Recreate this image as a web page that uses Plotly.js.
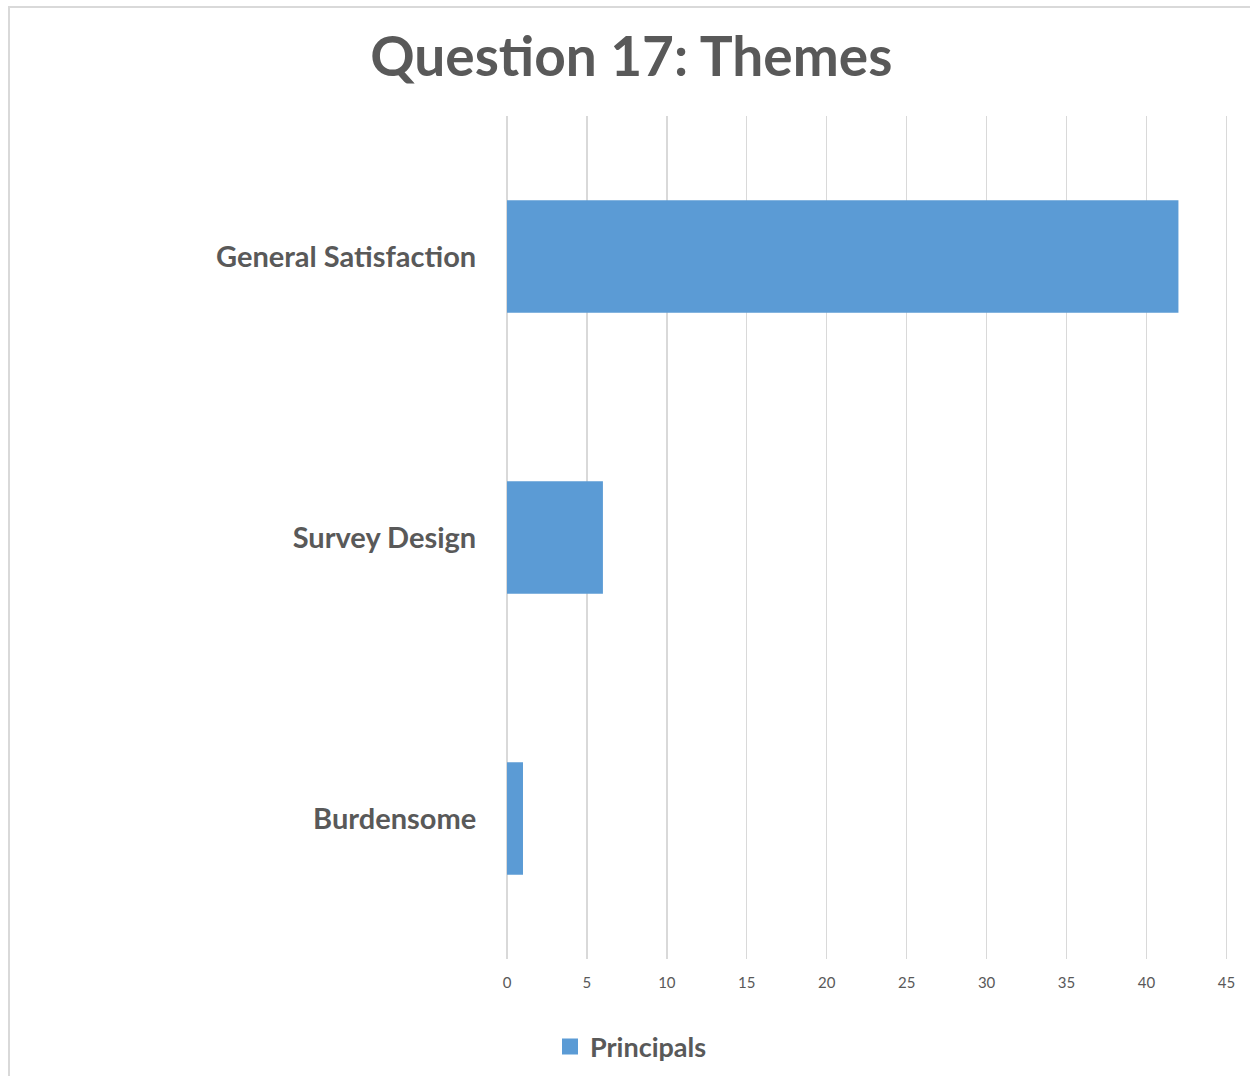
<!DOCTYPE html>
<html>
<head>
<meta charset="utf-8">
<script src="https://cdn.plot.ly/plotly-3.0.1.min.js"></script>
<style>
html,body{margin:0;padding:0;background:#fff;}
#frame{position:absolute;left:8px;top:6px;width:1260px;height:1090px;border:2px solid #d9d9d9;box-sizing:border-box;}
#chart{position:absolute;left:0;top:0;width:1250px;height:1076px;}
</style>
</head>
<body>
<div id="frame"></div>
<div id="chart"></div>
<script>
var categories = ["General Satisfaction", "Survey Design", "Burdensome"];
var principals = [42, 6, 1];
var tickVals = [0, 5, 10, 15, 20, 25, 30, 35, 40, 45];
var seriesName = "Principals";
var chartTitle = "Question 17: Themes";

var font = "Lato, 'Open Sans', sans-serif";
var barColor = "#5b9bd5";
var trace = {
  type: "bar",
  orientation: "h",
  y: categories,
  x: principals,
  name: seriesName,
  marker: {color: barColor},
  showlegend: false
};
var legendTrace = {
  type: "scatter",
  mode: "markers",
  x: [null], y: [null],
  name: seriesName,
  marker: {color: barColor, symbol: "square", size: 17},
  showlegend: true
};
var layout = {
  width: 1250, height: 1076,
  paper_bgcolor: "rgba(0,0,0,0)",
  plot_bgcolor: "rgba(0,0,0,0)",
  margin: {l: 507, r: 22, t: 116, b: 117},
  title: {text: chartTitle, x: 0.505, xref: "container", y: 0.947, yref: "container", yanchor: "middle",
          font: {family: font, size: 55, color: "#595959", weight: "bold"}},
  bargap: 0.6,
  xaxis: {range: [0, 45.1], tickvals: tickVals, showgrid: true, gridcolor: "#d9d9d9", gridwidth: 1.3,
          zeroline: true, zerolinecolor: "#d9d9d9", zerolinewidth: 1.3, showline: false,
          ticks: "outside", ticklen: 10, tickcolor: "rgba(0,0,0,0)",
          tickfont: {family: font, size: 15, color: "#595959"}},
  yaxis: {autorange: "reversed", showgrid: false, zeroline: false, showline: false, ticks: "outside", ticklen: 24, tickcolor: "rgba(0,0,0,0)",
          tickfont: {family: font, size: 29, color: "#595959", weight: "bold"}, categoryorder: "array", categoryarray: categories},
  legend: {orientation: "h", x: 0.44, xref: "container", y: 0.027, yref: "container", yanchor: "middle", xanchor: "left",
           font: {family: font, size: 27, color: "#595959", weight: "bold"}, itemwidth: 30},
  font: {family: font, color: "#595959"}
};
Plotly.newPlot("chart", [trace, legendTrace], layout, {displayModeBar: false, staticPlot: true});
</script>
</body>
</html>
